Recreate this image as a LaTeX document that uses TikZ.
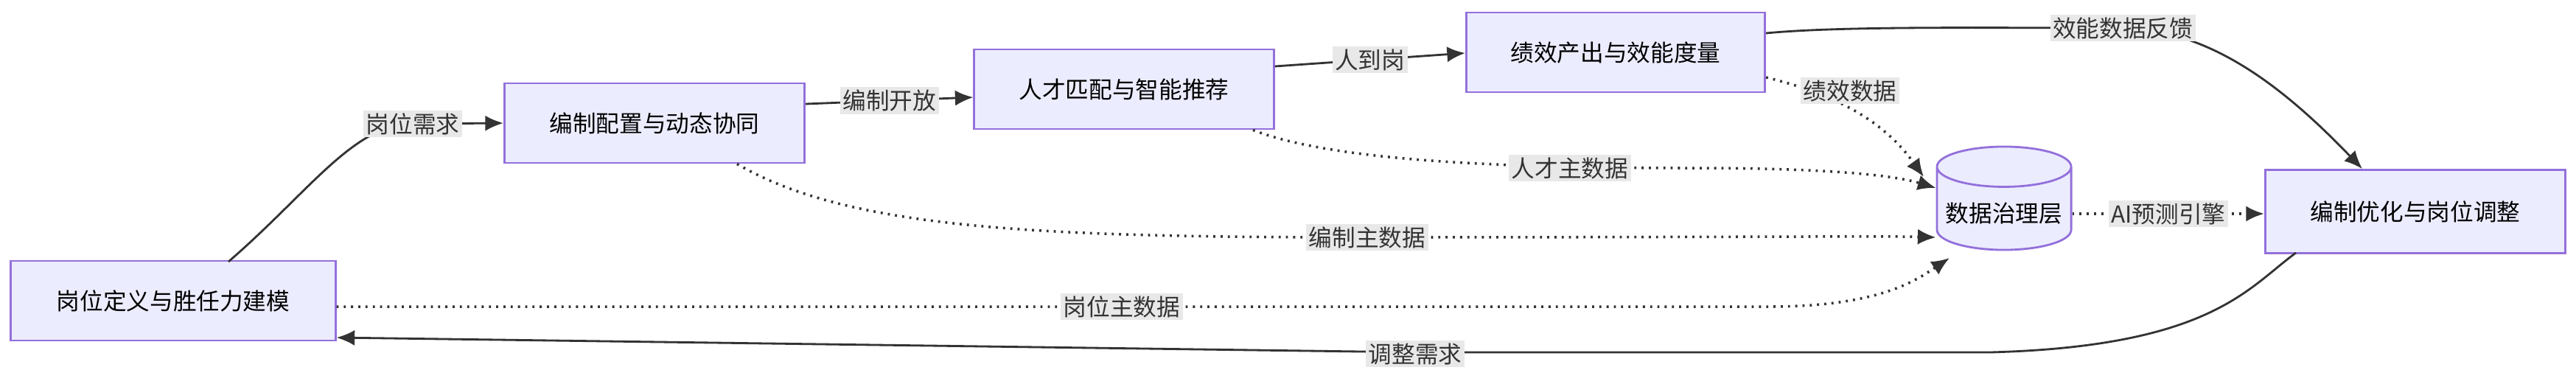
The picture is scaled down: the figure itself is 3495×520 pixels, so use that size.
\documentclass[tikz,border=0pt]{standalone}
\usepackage{fontspec}
\setmainfont{Noto Sans CJK SC}
\usetikzlibrary{shapes.geometric,arrows.meta}
\definecolor{boxfill}{HTML}{ECECFF}
\definecolor{boxline}{HTML}{9370DB}
\definecolor{lnk}{HTML}{333333}
\definecolor{lblbg}{HTML}{E8E8E8}
\tikzset{
  box/.style={draw=boxline,fill=boxfill,line width=0.8pt,minimum height=1.08cm,font=\fontsize{9}{11}\selectfont},
  store/.style={cylinder,shape border rotate=90,aspect=0.3,draw=boxline,fill=boxfill,line width=0.8pt,minimum width=1.82cm,minimum height=1.4cm,font=\fontsize{9}{11}\selectfont},
  flow/.style={draw=lnk,line width=0.8pt,-{Latex[length=7pt,width=6pt]}},
  data/.style={flow,dotted,line width=1pt},
  lbl/.style={fill=lblbg,inner sep=1pt,font=\fontsize{9}{11}\selectfont,text=lnk}
}
\begin{document}
\begin{tikzpicture}[x=0.01cm,y=-0.01cm]
    \useasboundingbox (0,0) rectangle (3495,520);
    % nodes
    \node[box,minimum width=4.4cm] (jobdef) at (235,408) {岗位定义与胜任力建模};
    \node[box,minimum width=4.07cm] (quota) at (888,167) {编制配置与动态协同};
    \node[box,minimum width=4.06cm] (match) at (1525,121) {人才匹配与智能推荐};
    \node[box,minimum width=4.05cm] (perf) at (2192,71) {绩效产出与效能度量};
    \node[store] (gov) at (2719,290) {数据治理层};
    \node[box,minimum width=4.07cm,minimum height=1.13cm] (opt) at (3277,287) {编制优化与岗位调整};

    % main flow
    \draw[flow] (310,355) .. controls (420,260) and (480,168) .. (560,168) -- (quota.west)
        node[lbl,pos=0] at (632,168) {岗位需求};
    \draw[flow] (quota.east |- 0,141) -- (match.west |- 0,132) node[lbl,midway] {编制开放};
    \draw[flow] (match.east |- 0,90) -- (perf.west |- 0,72) node[lbl,midway] {人到岗};
    \draw[flow] (perf.east |- 0,45) .. controls (2500,35) and (2700,38) .. (2880,38)
        .. controls (3000,40) and (3100,120) .. (opt.north -| 3205,0);
    \node[lbl] at (2880,38) {效能数据反馈};

    % data flows
    \draw[data] (perf.east |- 0,105) .. controls (2500,130) and (2560,170) .. (2610,240);
    \node[lbl] at (2510,123) {绩效数据};
    \draw[data] (match.south -| 1700,0) .. controls (1800,215) and (2000,228) .. (2300,228)
        .. controls (2450,228) and (2560,235) .. (gov.west |- 0,255);
    \node[lbl] at (2130,228) {人才主数据};
    \draw[data] (quota.south -| 1000,0) .. controls (1150,310) and (1400,322) .. (1855,322)
        .. controls (2300,322) and (2560,320) .. (gov.west |- 0,322);
    \node[lbl] at (1855,322) {编制主数据};
    \draw[data] (jobdef.east |- 0,416) -- (2400,416)
        .. controls (2550,416) and (2600,380) .. (2645,350);
    \node[lbl] at (1522,416) {岗位主数据};
    \draw[data] (gov.east |- 0,290) -- (opt.west |- 0,290) node[lbl,midway] {AI预测引擎};

    % feedback
    \draw[flow] (3115,343) .. controls (3050,390) and (3000,470) .. (2700,478)
        -- (1920,478) -- (jobdef.east |- 0,458);
    \node[lbl] at (1920,480) {调整需求};
\end{tikzpicture}
\end{document}
